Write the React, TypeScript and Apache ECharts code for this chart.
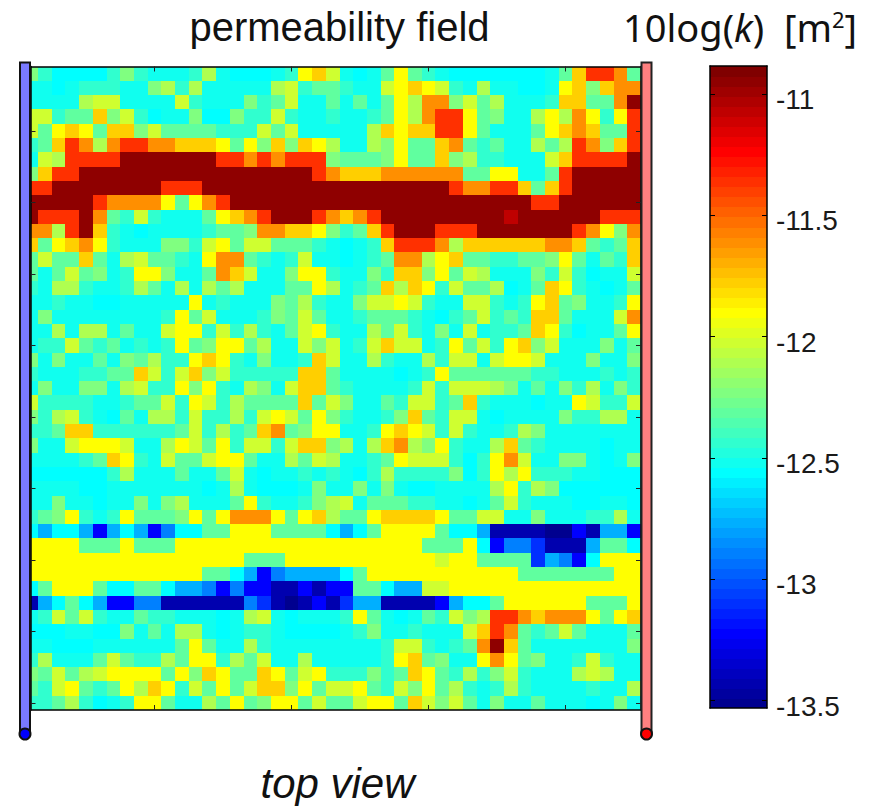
import React, { useEffect, useRef } from "react";
import * as echarts from "echarts";

// Value range of the colour scale, log permeability
const scaleMin = -13.53;
const scaleMax = -10.885;
const colorbarTicks = [-11, -11.5, -12, -12.5, -13, -13.5];
const fieldXTicks = [10, 20, 30, 40];
const fieldYTicks = [5, 10, 15, 20, 25, 30, 35, 40, 45];

// Readings of the field, by colour class
const classValues: Record<string, number> = {
  D: -13.509, N: -13.427, B: -13.22, E: -13.096, M: -12.889, S: -12.765,
  C: -12.559, t: -12.517, u: -12.434, g: -12.31, l: -12.227, y: -12.104,
  z: -12.021, Y: -11.897, O: -11.773, A: -11.607, R: -11.359, W: -11.07, X: -10.947,
};

// Columns 1-23 of each row, top row first
const fieldLeft = [
  "luCCCCulutttuytCCCtuYOz",
  "ttCtuuuttlyuytttttyzugg",
  "ttttyzzttttzutttlugzttg",
  "zzuggOlzuCttlCCluuzuttu",
  "zgYOYgOOlzgggguuuzgzttt",
  "ugORAyARRAAOOOYgYlOlOYy",
  "tzyRRRRXXXXXXXRRARARRRl",
  "lORRXXXXXXXXXXXXXXXXXRA",
  "RRXXXXXXXXRRRXXXXXXXXXX",
  "XXXXXRAAAAYgYARXXXXXXXX",
  "XRRRXAguzutttgYOARXXXRA",
  "AAyRXOutCttttugglAAOOYl",
  "OgYOAYutttlluzYgzzgggut",
  "gzggOgtyzggutYAAgutuztt",
  "gtgzgltuYYlttgAOzttlYYu",
  "utyyuttuygtytygytttggYy",
  "ttuttCCtttttYtutttlgyut",
  "tlttttttttuYgztttulgzgt",
  "ttytyytgttzYYuzuyutgzYu",
  "tuuzgugtutuYglYYgyttzlz",
  "ltlttgtlgyuuYOYutlttuOz",
  "utttuuggOzuzOlzuuuuuOOg",
  "tlttlltyzuuYlYutyltzOOg",
  "zuuuuttuggzuYzuyggggOgz",
  "luyzutCgtyyuzuuyuzYzgYl",
  "uugOOuuuuuugzuyugOAglYY",
  "lttzYYYzttyYzgYuzzuzOOl",
  "ttttugOYutzggzYYgttygzy",
  "CCCCCCuytttgttgztCttutu",
  "ttttCCtttttttCtytCCCtlt",
  "ttlttCttltlytttgYuttuly",
  "uglYutuYggglYgYAAAYgYOy",
  "CSCCSBSCSBMCCggYYYggggC",
  "YYYYgggYgggYYYYYYYYYYYY",
  "YYYYYYYYYYYYYYYYgggYYYY",
  "YYYYYYYYYYYYYggCSBMSSSS",
  "CgYYYgCCggCSSMBMBBNNBNB",
  "NSCgCSBBMMNNNNNNMENDNBN",
  "tuzgzuttguutttCtyztCttt",
  "CCCttCCltgtyytCtuutCCCC",
  "ttCCCttttttgYgttyuttttt",
  "uytttgzguuygYYuygzttytt",
  "lgzgyzYYYYgYlOYggOYgzYu",
  "guzYgugYyOYuzgYgzOOlYgz",
  "uugyuCtuYYgttygYglYYgzg",
];

// Columns 24-45 of each row, top row first
const fieldRight = [
  "tCtgYgutCCCCCCCtgORRAg",
  "uttzYOYzutyttCCtYOlOAA",
  "tgtgYyAAlzgytttuOOggAX",
  "ttugYyARRYglttyYyAYuYR",
  "ttyOYOORRYgtttgYOAOggR",
  "ttylYggOAgugttygyRAlOR",
  "ggglYggOlyuutttzORRRRX",
  "OOOAAAAAAggYYttgRXXXXX",
  "XXXXXXXXRAARROgORXXXXX",
  "XXXXXXXXXXXXXXRRXXXXXX",
  "OARXXXXXXXXXWXXXXXXRRR",
  "ugORXXXRRRXXXXXXXRAYlA",
  "CtuORRRAyOOOOOOAAOgugO",
  "CtugAAyYOgguugglYgtguO",
  "ttluOOlYgzytttluzuCttz",
  "tugOyOYuzggyCtgOYutCtg",
  "tlzzYzuttzzutuYOglttuY",
  "tugggutCugzuguOOgtttzA",
  "ttygzutltztuugOYuCttgY",
  "tuzOzztuYgzuYOlztttltg",
  "ttyuttyuzztzYYztttlttl",
  "ttttCtuYgggggguutttutu",
  "uttttuzuzzzyltgtluytlu",
  "lttguzzugOutttCttYzuuz",
  "uttulOguzztCttttluuyyt",
  "ttuYOYzuzuttuylttttttt",
  "ytyOAylYuttyOguttttCtt",
  "ttugYzzzuCuYAzttlltCtl",
  "tCuyuuuulCuYyYuuuttCCC",
  "tltltCCttttyYuylCCCCCC",
  "ztggguuttCtgzutttCCttC",
  "ggYOOOOYggzzttltttuuyt",
  "SCgYYYYgCCSNNNNDDBNSSB",
  "YYYYYYgggYCBMMENNNSggC",
  "YYYYYYYzYYggggESMBCYYY",
  "CgYYYYYYYYYYYgggggggYY",
  "BggCSSzzYYYYYYYYYYYYYY",
  "ESSNNNNBSCCgYYYYYYgggY",
  "uYgtCtguzlyRRAOAAAYgYO",
  "tulttutttzORAgugzgtttg",
  "tttuzzutugAXOgtttttttl",
  "tttuYOglttYAYglttuzutt",
  "uulugOYguyulzutttyzytt",
  "zYguzlYgyutuyuttttutty",
  "gzYYgOzlzgtlttgtttCtlt",
];

const levelCount = 64;
const levelStep = (scaleMax - scaleMin) / levelCount;

function jet(i: number): string {
  const c = (n: number) => Math.round(255 * Math.max(0, Math.min(1, n)));
  const r = Math.min((i - 24) / 16, 1 - (i - 56) / 16);
  const g = Math.min((i - 8) / 16, 1 - (i - 40) / 16);
  const b = Math.min(0.5 + i / 16, 1 - (i - 24) / 16);
  return `rgb(${c(r)},${c(g)},${c(b)})`;
}

const pieces = Array.from({ length: levelCount }, (_, k) => ({
  gte: scaleMin + k * levelStep - (k === 0 ? 1 : 0),
  lt: scaleMin + (k + 1) * levelStep + (k === levelCount - 1 ? 1 : 0),
  color: jet(k + 1),
}));

const fieldData: number[][] = [];
fieldLeft.forEach((left, r) => {
  const row = left + fieldRight[r];
  for (let c = 0; c < row.length; c++) {
    fieldData.push([c + 1, r + 1, classValues[row[c]]]);
  }
});

const colorbarData = pieces.map((_, k) => {
  const v = scaleMin + (k + 0.5) * levelStep;
  return [0, v, v];
});

const FONT = "Liberation Sans";
const UNIT_FONT = "Noto Sans";

function renderField(params: any, api: any) {
  const cs = params.coordSys;
  const x = api.value(0);
  const y = api.value(1);
  const a = api.coord([x - 0.5, y - 0.5]);
  const b = api.coord([x + 0.5, y + 0.5]);
  const x0 = Math.round(Math.max(a[0], cs.x));
  const x1 = Math.round(Math.min(b[0], cs.x + cs.width));
  const y0 = Math.round(Math.max(a[1], cs.y));
  const y1 = Math.round(Math.min(b[1], cs.y + cs.height));
  return {
    type: "rect",
    shape: { x: x0, y: y0, width: x1 - x0, height: y1 - y0 },
    style: { fill: api.visual("color") },
  };
}

function renderBand(params: any, api: any) {
  const cs = params.coordSys;
  const v = api.value(1);
  const top = Math.round(api.coord([0, v + levelStep / 2])[1]);
  const bot = Math.round(api.coord([0, v - levelStep / 2])[1]) + 1;
  const limit = cs.y + cs.height;
  return {
    type: "rect",
    shape: { x: cs.x, y: top, width: cs.width, height: Math.min(bot, limit) - top },
    style: { fill: api.visual("color") },
  };
}

function rod(x: number, fill: string, dot: string, stroke: string) {
  return [
    {
      type: "rect",
      z: 20,
      shape: { x, y: 62.5, width: 10, height: 670 },
      style: { fill, stroke, lineWidth: 2 },
    },
    {
      type: "circle",
      z: 21,
      shape: { cx: x + 5, cy: 734, r: 5.5 },
      style: { fill: dot, stroke: "#111", lineWidth: 2 },
    },
  ];
}

const axisBase = {
  type: "value",
  z: 5,
  splitLine: { show: false },
  axisLabel: { show: false },
  axisLine: { show: true, onZero: false, lineStyle: { color: "#000", width: 1.5 } },
};

function fieldX(position: string) {
  return {
    ...axisBase,
    gridIndex: 0,
    position,
    min: 0.95,
    max: 45.5,
    axisTick: { show: true, inside: true, length: 5, customValues: fieldXTicks, lineStyle: { color: "#222", width: 1 } },
  };
}
function fieldY(position: string) {
  return {
    ...axisBase,
    gridIndex: 0,
    position,
    inverse: true,
    min: 0.5,
    max: 45.5,
    axisTick: { show: true, inside: true, length: 5, customValues: fieldYTicks, lineStyle: { color: "#222", width: 1 } },
  };
}
function barX(position: string) {
  return { ...axisBase, gridIndex: 1, position, min: 0, max: 1, axisTick: { show: false } };
}
function barY(position: string, labels: boolean) {
  return {
    ...axisBase,
    gridIndex: 1,
    position,
    min: scaleMin,
    max: scaleMax,
    axisTick: { show: true, inside: true, length: 5, customValues: colorbarTicks, lineStyle: { color: "#000", width: 1 } },
    axisLabel: labels
      ? {
          show: true,
          customValues: colorbarTicks,
          margin: 9,
          fontFamily: FONT,
          fontSize: 28,
          color: "#1a1a1a",
          verticalAlign: "top",
          lineHeight: 11,
          formatter: (v: number) => String(v),
        }
      : { show: false },
  };
}

export default function App() {
  const ref = useRef<HTMLDivElement>(null);
  useEffect(() => {
    const chart = echarts.init(ref.current!, null, { renderer: "svg" });
    chart.setOption({
      animation: false,
      backgroundColor: "#fff",
      grid: [
        { left: 30.5, top: 66.5, width: 610.5, height: 643.5 },
        { left: 710, top: 66, width: 57, height: 642 },
      ],
      xAxis: [fieldX("bottom"), fieldX("top"), barX("bottom"), barX("top")],
      yAxis: [fieldY("left"), fieldY("right"), barY("right", true), barY("left", false)],
      visualMap: {
        type: "piecewise",
        show: false,
        dimension: 2,
        seriesIndex: [0, 1],
        pieces,
      },
      series: [
        {
          type: "custom",
          name: "permeability field",
          xAxisIndex: 0,
          yAxisIndex: 0,
          coordinateSystem: "cartesian2d",
          clip: false,
          renderItem: renderField,
          encode: { x: 0, y: 1 },
          data: fieldData,
        },
        {
          type: "custom",
          name: "colorbar",
          xAxisIndex: 2,
          yAxisIndex: 2,
          coordinateSystem: "cartesian2d",
          renderItem: renderBand,
          encode: { x: 0, y: 1 },
          data: colorbarData,
        },
      ],
      graphic: [
        ...rod(20, "#7a7aff", "#0000ff", "#111"),
        ...rod(641.5, "#ff8080", "#ff0000", "#222"),
        {
          type: "text",
          z: 30,
          x: 339.5,
          y: 27,
          style: {
            text: "permeability field",
            fontFamily: FONT,
            fontSize: 40,
            fill: "#111",
            textAlign: "center",
            textVerticalAlign: "middle",
          },
        },
        {
          type: "text",
          z: 30,
          x: 623,
          y: 27,
          style: {
            text: "{a|10log(}{k|k}{a|)  [m}{s|2}{a|]}",
            fontFamily: UNIT_FONT,
            fontSize: 38,
            fill: "#111",
            textAlign: "left",
            textVerticalAlign: "middle",
            rich: {
              a: { fontFamily: UNIT_FONT, fontSize: 38, fill: "#111" },
              k: { fontFamily: UNIT_FONT, fontSize: 38, fontStyle: "italic", fill: "#111" },
              s: { fontFamily: UNIT_FONT, fontSize: 22, fill: "#111", verticalAlign: "top" },
            },
          },
        },
        {
          type: "text",
          z: 30,
          x: 337.5,
          y: 783,
          style: {
            text: "top view",
            fontFamily: FONT,
            fontSize: 42,
            fontStyle: "italic",
            fill: "#111",
            textAlign: "center",
            textVerticalAlign: "middle",
          },
        },
      ],
    });
    return () => chart.dispose();
  }, []);
  return <div ref={ref} style={{ position: "fixed", left: 0, top: 0, width: 873, height: 806 }} />;
}
